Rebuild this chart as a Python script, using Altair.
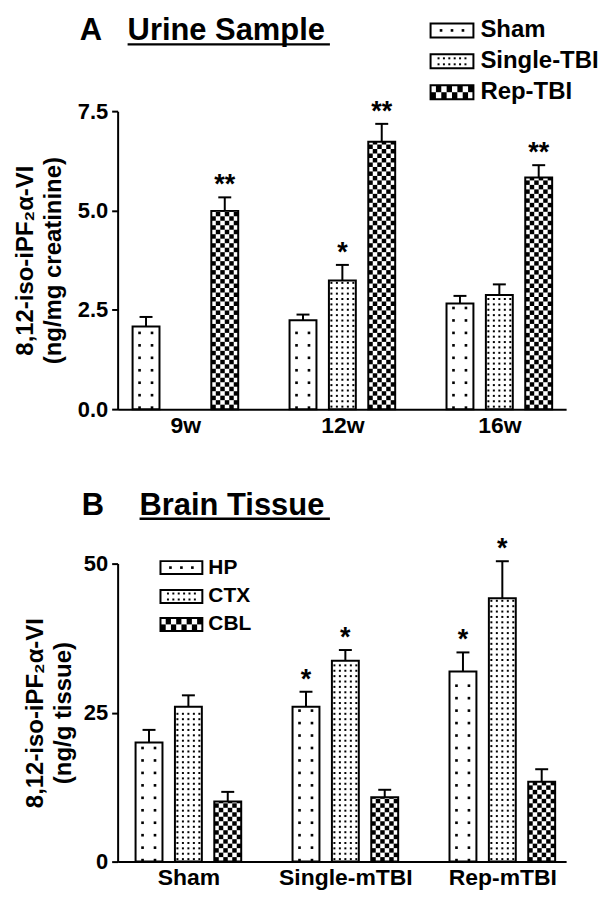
import altair as alt
import pandas as pd
import numpy as np

# ---------------- data ----------------
groups_a = ["9w", "12w", "16w"]
series_a = ["Sham", "Single-TBI", "Rep-TBI"]
sham_a = [2.08, 2.24, 2.66]
sham_a_err = [0.24, 0.14, 0.19]
single_a = [None, 3.24, 2.87]
single_a_err = [None, 0.39, 0.27]
rep_a = [4.99, 6.73, 5.83]
rep_a_err = [0.34, 0.45, 0.31]
sig_sham_a = ["", "", ""]
sig_single_a = ["", "*", ""]
sig_rep_a = ["**", "**", "**"]
yticks_a = [0, 2.5, 5.0, 7.5]

groups_b = ["Sham", "Single-mTBI", "Rep-mTBI"]
series_b = ["HP", "CTX", "CBL"]
hp_b = [20.0, 26.0, 31.9]
hp_b_err = [2.1, 2.5, 3.2]
ctx_b = [26.0, 33.7, 44.2]
ctx_b_err = [1.9, 1.8, 6.2]
cbl_b = [10.1, 10.8, 13.4]
cbl_b_err = [1.6, 1.25, 2.1]
sig_hp_b = ["", "*", "*"]
sig_ctx_b = ["", "*", "*"]
sig_cbl_b = ["", "", ""]
yticks_b = [0, 25, 50]

FONT = "Liberation Sans"

# ---------------- layout constants ----------------
XPX = 157.5             # pixels per group unit
W = 450                 # plot width
STEP = 39.5 / XPX       # bar step inside a group
BW = 27 / XPX           # bar width
CAP = 13 / XPX          # error cap width
KINDS = ["dots", "grid", "checker"]


def pattern(kind, cx, w, y0, y1, pxy, legend=False):
    """Fill pattern for a bar spanning [cx-w/2, cx+w/2] x [y0, y1] (data units)."""
    cells, dots = [], []
    hpx = (y1 - y0) * pxy
    if kind == "checker":
        ncol = 8 if legend else 6
        ch = hpx / 2 if legend else 4.5
        nrow = int(np.ceil(hpx / ch - 1e-6))
        cw = w / ncol
        for r in range(nrow):
            ya = y0 + r * ch / pxy
            yb = min(y0 + (r + 1) * ch / pxy, y1)
            for c in range(ncol):
                if (r + c) % 2 == 0:
                    cells.append(dict(x=cx - w / 2 + c * cw, x2=cx - w / 2 + (c + 1) * cw, y=ya, y2=yb))
    elif kind == "grid":
        if legend:
            n = int((w * XPX - 6) // 5.4)
            offs = [(i - (n - 1) / 2) * 5.4 for i in range(n)]
            for ry in [-3.0, 3.0]:
                for o in offs:
                    dots.append(dict(x=cx + o / XPX, y=(y0 + y1) / 2 + ry / pxy, s=4))
        else:
            offs = [-11, -5.5, 0, 5.5, 11]
            k = 0
            while 2.5 + k * 5.4 < hpx - 2:
                for o in offs:
                    dots.append(dict(x=cx + o / XPX, y=y0 + (2.5 + k * 5.4) / pxy, s=4))
                k += 1
    else:
        if legend:
            for o in [-11, 0, 11]:
                dots.append(dict(x=cx + o / XPX, y=(y0 + y1) / 2, s=7))
        else:
            offs = [-6.5, 6.0]
            k = 0
            while 1.5 + k * 12.5 < hpx - 3:
                for o in offs:
                    dots.append(dict(x=cx + o / XPX, y=y0 + (1.5 + k * 12.5) / pxy, s=7))
                k += 1
    return cells, dots


def panel(groups, series, vals, errs, sigs, ydomain, yticks, yfmt, ytitle, tpad,
          xmin, height, ytop_px, letter, heading, head, legend, legend_font):
    pxy = (height - ytop_px) / ydomain[1]
    xs = alt.Scale(domain=[xmin, xmin + W / XPX], nice=False, zero=False)
    ys = alt.Scale(domain=ydomain, range=[height, ytop_px], nice=False, zero=False)
    lab_expr = "[" + ",".join("'%s'" % g for g in groups) + "][datum.value]"
    xax = alt.Axis(values=[0, 1, 2], labelExpr=lab_expr, ticks=False, grid=False,
                   domainColor="black", domainWidth=2, labelFont=FONT, labelFontSize=23,
                   labelFontWeight="bold", labelColor="black", labelPadding=5,
                   labelOverlap=False, labelBound=False, labelFlush=False, title=None)
    yax = alt.Axis(values=yticks, format=yfmt, grid=False, domainColor="black", domainWidth=2,
                   tickColor="black", tickWidth=2, tickSize=6, labelFont=FONT, labelFontSize=22,
                   labelFontWeight="bold", labelColor="black", labelPadding=4,
                   title=ytitle, titleFont=FONT, titleFontSize=24, titleFontWeight="bold",
                   titleColor="black", titlePadding=tpad, titleLineHeight=28)

    def X(f):
        return alt.X(f, type="quantitative", scale=xs, axis=xax)

    def Y(f):
        return alt.Y(f, type="quantitative", scale=ys, axis=yax)

    bars, cells, dots = [], [], []
    for gi, g in enumerate(groups):
        for si, s in enumerate(series):
            v = vals[si][gi]
            if v is None:
                continue
            e = errs[si][gi]
            cx = gi + (si - 1) * STEP
            bars.append(dict(g=g, s=s, cx=cx, xl=cx - BW / 2, xr=cx + BW / 2,
                             cl=cx - CAP / 2, cr=cx + CAP / 2, v=v, base=0.0,
                             top=v + e, sig=sigs[si][gi]))
            c, d = pattern(KINDS[si], cx, BW, 0.0, v, pxy)
            cells += c
            dots += d
    bdf = pd.DataFrame(bars)

    # legend (positions given in page pixels of the reference, converted to data units)
    leg_rows, leg_txt = [], []
    lx0, lx1, ly, lh, ltx = legend
    for si, s in enumerate(series):
        cxp = (lx0 + lx1) / 2
        cx = xmin + cxp / XPX
        w = (lx1 - lx0) / XPX
        yc = ly[si]
        y0 = (height - (yc + lh / 2)) / pxy
        y1 = (height - (yc - lh / 2)) / pxy
        leg_rows.append(dict(xl=cx - w / 2, xr=cx + w / 2, y0=y0, y1=y1))
        c, d = pattern(KINDS[si], cx, w, y0, y1, pxy, legend=True)
        cells += c
        dots += d
        leg_txt.append(dict(x=xmin + ltx / XPX, y=(height - yc) / pxy, t=s))
    cdf = pd.DataFrame(cells)
    ddf = pd.DataFrame(dots)
    ldf = pd.DataFrame(leg_rows)
    ltdf = pd.DataFrame(leg_txt)

    hx_letter, hx_text, hx_end, hy = head
    hdf = pd.DataFrame([dict(x=xmin + hx_letter / XPX, y=(height - hy) / pxy, t=letter),
                        dict(x=xmin + hx_text / XPX, y=(height - hy) / pxy, t=heading)])
    udf = pd.DataFrame([dict(x=xmin + hx_text / XPX, x2=xmin + hx_end / XPX,
                             y=(height - hy - 4) / pxy)])

    base_bar = alt.Chart(bdf)
    layers = [
        base_bar.mark_rect(fill="white", stroke=None).encode(x=X("xl"), x2="xr", y=Y("v"), y2="base"),
        alt.Chart(ldf).mark_rect(fill="white", stroke=None).encode(x=X("xl"), x2="xr", y=Y("y0"), y2="y1"),
    ]
    if len(cdf):
        layers.append(alt.Chart(cdf).mark_rect(fill="black", stroke=None).encode(
            x=X("x"), x2="x2", y=Y("y"), y2="y2"))
    layers += [
        alt.Chart(ddf).mark_square(color="black", opacity=1).encode(
            x=X("x"), y=Y("y"), size=alt.Size("s:Q", scale=None, legend=None)),
        base_bar.mark_rect(fill=None, fillOpacity=0, stroke="black", strokeWidth=2).encode(
            x=X("xl"), x2="xr", y=Y("v"), y2="base"),
        alt.Chart(ldf).mark_rect(fill=None, fillOpacity=0, stroke="black", strokeWidth=2).encode(
            x=X("xl"), x2="xr", y=Y("y0"), y2="y1"),
        base_bar.mark_rule(color="black", strokeWidth=2).encode(x=X("cx"), y=Y("v"), y2="top"),
        base_bar.mark_rule(color="black", strokeWidth=2).encode(x=X("cl"), x2="cr", y=Y("top")),
        base_bar.mark_text(font=FONT, fontSize=27, fontWeight="bold", color="black",
                           baseline="middle", dy=-12).encode(x=X("cx"), y=Y("top"), text="sig:N"),
        alt.Chart(ltdf).mark_text(font=FONT, fontSize=legend_font, fontWeight="bold", color="black",
                                  align="left", baseline="middle").encode(x=X("x"), y=Y("y"), text="t:N"),
        alt.Chart(hdf).mark_text(font=FONT, fontSize=31, fontWeight="bold", color="black",
                                 align="left", baseline="alphabetic").encode(x=X("x"), y=Y("y"), text="t:N"),
        alt.Chart(udf).mark_rule(color="black", strokeWidth=2.5).encode(x=X("x"), x2="x2", y=Y("y")),
    ]
    return alt.layer(*layers).properties(width=W, height=height)


# Panel A: plot top at page y=8, axis 0 at page 409, 7.5 at page 110
HA = 401
pa = panel(groups_a, series_a, [sham_a, single_a, rep_a], [sham_a_err, single_a_err, rep_a_err],
           [sig_sham_a, sig_single_a, sig_rep_a], [0, 7.5], yticks_a, ".1f",
           ["8,12-iso-iPF₂α-VI", "(ng/mg creatinine)"], 12, -68 / XPX, HA, 102,
           "A", "Urine Sample", (80 - 118, 128 - 118, 331 - 118, 39 - 8),
           (432 - 118, 475 - 118, [29 - 8, 60 - 8, 91 - 8], 14, 482 - 118), 24)

# Panel B: plot top at page y=485, axis 0 at page 865, 50 at page 566
HB = 380
pb = panel(groups_b, series_b, [hp_b, ctx_b, cbl_b], [hp_b_err, ctx_b_err, cbl_b_err],
           [sig_hp_b, sig_ctx_b, sig_cbl_b], [0, 50], yticks_b, "d",
           ["8,12-iso-iPF₂α-VI", "(ng/g tissue)"], 8, -71 / XPX, HB, 81,
           "B", "Brain Tissue", (82 - 118, 140 - 118, 331 - 118, 517 - 485),
           (161 - 118, 203 - 118, [570 - 485, 599 - 485, 627 - 485], 13, 209 - 118), 21)

chart = (alt.vconcat(pa, pb, spacing=46)
         .properties(padding={"left": 5, "top": 0, "right": 0, "bottom": 0})
         .configure_view(stroke=None))
chart.save("out.html", embed_options={"renderer": "svg", "actions": False})
